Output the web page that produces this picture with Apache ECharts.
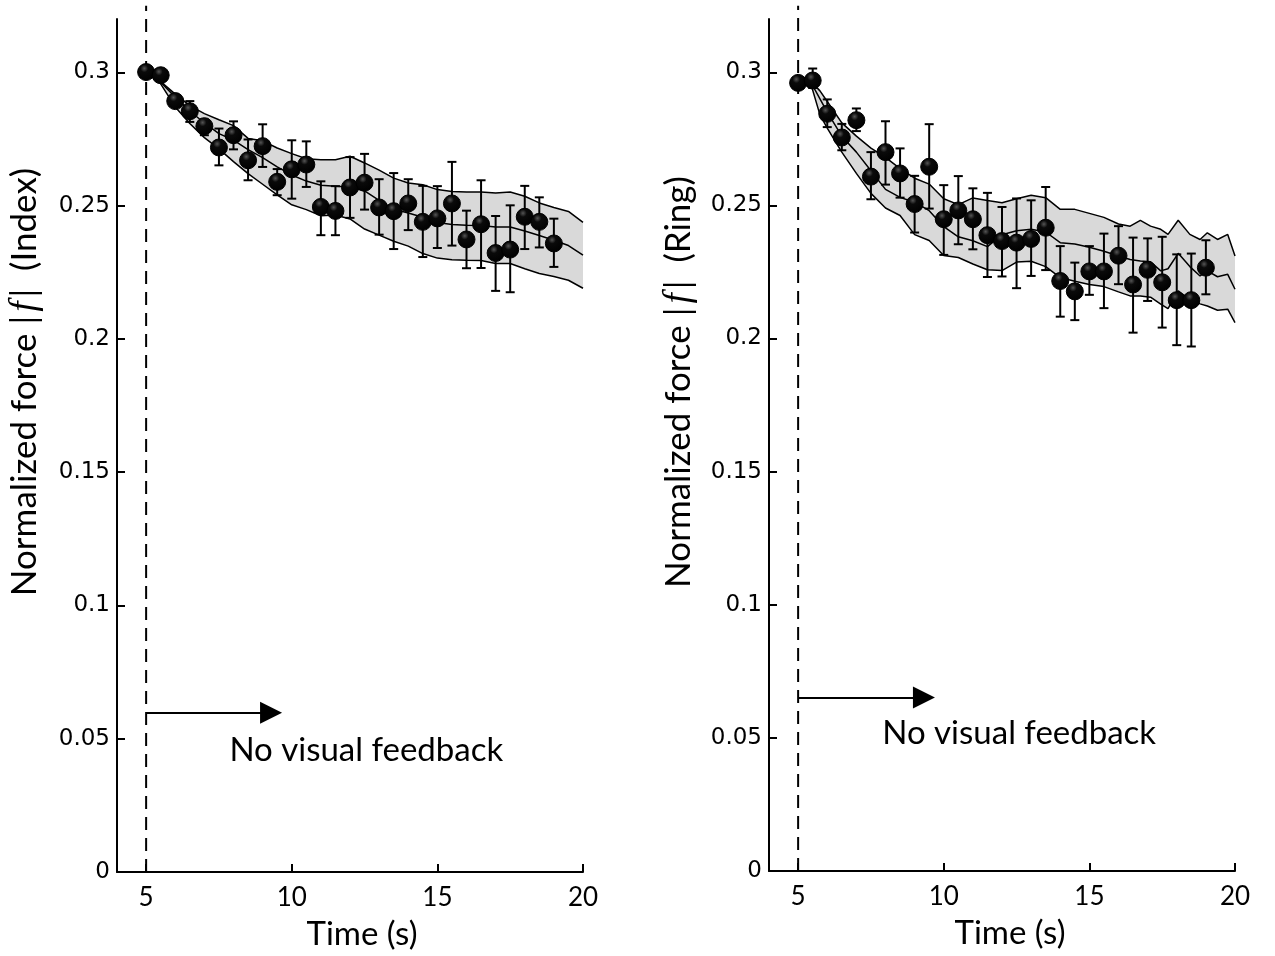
<!DOCTYPE html>
<html>
<head>
<meta charset="utf-8">
<script src="https://cdn.jsdelivr.net/npm/echarts@6/dist/echarts.min.js"></script>
<style>
html, body { margin: 0; padding: 0; background: #fff; }
#main { width: 1275px; height: 956px; }
</style>
</head>
<body>
<div id="main"></div>
<script>
// sample times (s)
var times = [5, 5.5, 6, 6.5, 7, 7.5, 8, 8.5, 9, 9.5, 10, 10.5, 11, 11.5, 12, 12.5, 13, 13.5, 14, 14.5, 15, 15.5, 16, 16.5, 17, 17.5, 18, 18.5, 19];

// index finger: mean and error bar ends
var indexMean = [0.3001, 0.2989, 0.2892, 0.2854, 0.2798, 0.2718, 0.2764, 0.2670, 0.2723, 0.2589, 0.2636, 0.2654, 0.2495, 0.2480, 0.2568, 0.2586, 0.2493, 0.2479, 0.2508, 0.2439, 0.2452, 0.2508, 0.2373, 0.2430, 0.2322, 0.2335, 0.2458, 0.2439, 0.2358];
var indexLow  = [0.2990, 0.2978, 0.2880, 0.2814, 0.2764, 0.2651, 0.2711, 0.2595, 0.2645, 0.2539, 0.2526, 0.2570, 0.2389, 0.2389, 0.2454, 0.2485, 0.2391, 0.2337, 0.2408, 0.2307, 0.2341, 0.2350, 0.2265, 0.2266, 0.2180, 0.2175, 0.2337, 0.2343, 0.2270];
var indexHigh = [0.3012, 0.3000, 0.2905, 0.2892, 0.2823, 0.2789, 0.2816, 0.2748, 0.2805, 0.2637, 0.2745, 0.2741, 0.2591, 0.2573, 0.2682, 0.2694, 0.2599, 0.2622, 0.2599, 0.2574, 0.2573, 0.2664, 0.2481, 0.2595, 0.2461, 0.2501, 0.2574, 0.2531, 0.2451];

// ring finger
var ringMean = [0.2960, 0.2969, 0.2844, 0.2755, 0.2820, 0.2608, 0.2700, 0.2620, 0.2505, 0.2645, 0.2448, 0.2481, 0.2448, 0.2388, 0.2366, 0.2360, 0.2374, 0.2416, 0.2216, 0.2177, 0.2252, 0.2252, 0.2311, 0.2203, 0.2258, 0.2211, 0.2144, 0.2144, 0.2266];
var ringLow  = [0.2945, 0.2941, 0.2794, 0.2707, 0.2779, 0.2523, 0.2578, 0.2529, 0.2398, 0.2488, 0.2314, 0.2354, 0.2335, 0.2231, 0.2233, 0.2189, 0.2235, 0.2257, 0.2082, 0.2069, 0.2164, 0.2114, 0.2204, 0.2022, 0.2141, 0.2041, 0.1975, 0.1970, 0.2166];
var ringHigh = [0.2975, 0.3014, 0.2898, 0.2806, 0.2864, 0.2700, 0.2816, 0.2714, 0.2611, 0.2805, 0.2576, 0.2610, 0.2564, 0.2547, 0.2494, 0.2526, 0.2519, 0.2569, 0.2347, 0.2285, 0.2347, 0.2394, 0.2422, 0.2379, 0.2376, 0.2382, 0.2316, 0.2319, 0.2369];

// model band, index panel
var indexBandX   = [5.4, 5.5, 6, 6.5, 7, 7.5, 8, 8.5, 9, 9.5, 10, 10.5, 11, 11.5, 12, 12.5, 13, 13.5, 14, 14.5, 15, 15.5, 16, 16.5, 17, 17.5, 18, 18.5, 19, 19.5, 20];
var indexBandUp  = [0.2990, 0.2965, 0.2918, 0.2875, 0.2845, 0.2822, 0.2800, 0.2752, 0.2743, 0.2716, 0.2695, 0.2676, 0.2672, 0.2672, 0.2685, 0.2660, 0.2633, 0.2603, 0.2585, 0.2578, 0.2560, 0.2553, 0.2551, 0.2551, 0.2547, 0.2551, 0.2535, 0.2510, 0.2493, 0.2478, 0.2437];
var indexBandMid = [0.2990, 0.2963, 0.2907, 0.2855, 0.2810, 0.2770, 0.2746, 0.2710, 0.2680, 0.2645, 0.2615, 0.2592, 0.2576, 0.2573, 0.2570, 0.2555, 0.2520, 0.2486, 0.2472, 0.2456, 0.2437, 0.2429, 0.2426, 0.2425, 0.2420, 0.2420, 0.2405, 0.2388, 0.2370, 0.2350, 0.2314];
var indexBandLow = [0.2990, 0.2957, 0.2870, 0.2808, 0.2755, 0.2713, 0.2665, 0.2620, 0.2580, 0.2540, 0.2503, 0.2485, 0.2462, 0.2465, 0.2450, 0.2412, 0.2389, 0.2366, 0.2348, 0.2320, 0.2303, 0.2297, 0.2295, 0.2294, 0.2283, 0.2283, 0.2263, 0.2245, 0.2234, 0.2220, 0.2190];

// model band, ring panel
var ringBandX   = [5.4, 5.75, 6, 6.5, 7, 7.5, 8, 8.5, 9, 9.5, 10, 10.5, 11, 11.5, 12, 12.5, 13, 13.5, 14, 14.5, 15, 15.5, 16, 16.4, 16.75, 17.1, 17.45, 17.7, 18.05, 18.45, 18.8, 19.05, 19.4, 19.75, 20];
var ringBandUp  = [0.2970, 0.2930, 0.2890, 0.2810, 0.2760, 0.2715, 0.2680, 0.2638, 0.2602, 0.2580, 0.2525, 0.2503, 0.2528, 0.2518, 0.2510, 0.2525, 0.2538, 0.2529, 0.2485, 0.2485, 0.2470, 0.2455, 0.2430, 0.2422, 0.2444, 0.2422, 0.2410, 0.2391, 0.2444, 0.2391, 0.2372, 0.2397, 0.2372, 0.2391, 0.2310];
var ringBandMid = [0.2970, 0.2900, 0.2850, 0.2760, 0.2700, 0.2630, 0.2560, 0.2530, 0.2512, 0.2480, 0.2420, 0.2382, 0.2367, 0.2345, 0.2390, 0.2405, 0.2410, 0.2400, 0.2360, 0.2355, 0.2343, 0.2328, 0.2310, 0.2297, 0.2291, 0.2288, 0.2254, 0.2262, 0.2320, 0.2270, 0.2235, 0.2254, 0.2232, 0.2241, 0.2185];
var ringBandLow = [0.2970, 0.2840, 0.2790, 0.2700, 0.2620, 0.2545, 0.2490, 0.2462, 0.2390, 0.2368, 0.2312, 0.2304, 0.2280, 0.2258, 0.2255, 0.2287, 0.2290, 0.2270, 0.2229, 0.2215, 0.2203, 0.2195, 0.2175, 0.2160, 0.2160, 0.2155, 0.2129, 0.2112, 0.2179, 0.2145, 0.2130, 0.2122, 0.2106, 0.2110, 0.2060];

var xTicks = [5, 10, 15, 20];
var yTicks = [0, 0.05, 0.1, 0.15, 0.2, 0.25, 0.3];

var feedbackStart = 5;
var noteText = 'No visual feedback';
var labelFont = 'Lato, "Open Sans", sans-serif';

function zip3(a, b, c) {
  return a.map(function (v, i) { return [v, b[i], c[i]]; });
}

function bandItem(bx, up, lo) {
  return function (params, api) {
    if (params.dataIndex !== 0) return null;
    var pts = [];
    for (var i = 0; i < bx.length; i++) pts.push(api.coord([bx[i], up[i]]));
    for (var j = bx.length - 1; j >= 0; j--) pts.push(api.coord([bx[j], lo[j]]));
    return { type: 'polygon', shape: { points: pts }, style: { fill: '#d9d9d9' }, silent: true };
  };
}

function errorBarItem(params, api) {
  var x = api.value(0);
  var top = api.coord([x, api.value(2)]);
  var bot = api.coord([x, api.value(1)]);
  var hw = 4.5;
  var st = { stroke: '#000', lineWidth: 2 };
  return {
    type: 'group',
    children: [
      { type: 'line', shape: { x1: top[0], y1: top[1], x2: bot[0], y2: bot[1] }, style: st },
      { type: 'line', shape: { x1: top[0] - hw, y1: top[1], x2: top[0] + hw, y2: top[1] }, style: st },
      { type: 'line', shape: { x1: bot[0] - hw, y1: bot[1], x2: bot[0] + hw, y2: bot[1] }, style: st }
    ]
  };
}

var dotColor = {
  type: 'radial', x: 0.4, y: 0.3, r: 0.7,
  colorStops: [{ offset: 0, color: '#555' }, { offset: 0.3, color: '#0a0a0a' }, { offset: 1, color: '#000' }]
};

function bandLine(idx, bx, vals) {
  return {
    type: 'line', xAxisIndex: idx, yAxisIndex: idx, z: 3,
    data: bx.map(function (x, i) { return [x, vals[i]]; }),
    showSymbol: false, silent: true, smooth: false,
    lineStyle: { color: '#000', width: 1.5 }
  };
}

function panelSeries(idx, mean, low, high, bx, bu, bm, bl, arrowY, arrowEnd, note) {
  return [
    {
      type: 'custom', xAxisIndex: idx, yAxisIndex: idx, z: 2, silent: true,
      renderItem: bandItem(bx, bu, bl),
      data: zip3(bx, bu, bl), encode: { x: 0, y: [1, 2] }
    },
    bandLine(idx, bx, bu),
    bandLine(idx, bx, bm),
    bandLine(idx, bx, bl),
    {
      type: 'custom', xAxisIndex: idx, yAxisIndex: idx, z: 4, silent: true,
      renderItem: errorBarItem,
      data: zip3(times, low, high), encode: { x: 0, y: [1, 2] }
    },
    {
      type: 'scatter', xAxisIndex: idx, yAxisIndex: idx, z: 5, silent: true,
      symbolSize: 17,
      itemStyle: { color: dotColor, borderColor: '#000', borderWidth: 1, opacity: 1 },
      data: times.map(function (t, i) { return [t, mean[i]]; })
    },
    {
      type: 'line', xAxisIndex: idx, yAxisIndex: idx, z: 3, silent: true, clip: false,
      showSymbol: false,
      lineStyle: { color: '#000', width: 2, type: [13, 8] },
      data: [[feedbackStart, 0], [feedbackStart, 0.325]],
      markLine: {
        silent: true, animation: false,
        symbol: ['none', 'triangle'], symbolSize: 22,
        lineStyle: { color: '#000', width: 2, type: 'solid' },
        label: { show: false },
        data: [[{ coord: [feedbackStart, arrowY] }, { coord: [arrowEnd, arrowY] }]]
      }
    },
    {
      type: 'scatter', xAxisIndex: idx, yAxisIndex: idx, z: 6, silent: true,
      symbolSize: 1, itemStyle: { color: 'rgba(0,0,0,0)', opacity: 1 },
      label: {
        show: true, position: 'inside', formatter: noteText,
        fontFamily: labelFont, fontSize: 33, color: '#000'
      },
      data: [note]
    }
  ];
}

function xAxisCfg(idx, pad) {
  return {
    type: 'value', gridIndex: idx, min: 4, max: 20,
    name: 'Time (s)', nameLocation: 'middle', nameGap: 46,
    nameTextStyle: { fontFamily: labelFont, fontSize: 33, color: '#000', padding: [0, 0, 0, pad] },
    axisLine: { lineStyle: { color: '#000', width: 2 } },
    axisTick: { inside: true, length: 8, lineStyle: { color: '#000', width: 2 }, customValues: xTicks },
    axisLabel: { margin: 13, fontFamily: labelFont, fontSize: 26, color: '#000', customValues: xTicks },
    splitLine: { show: false }
  };
}

function yAxisCfg(idx) {
  return {
    type: 'value', gridIndex: idx, min: 0, max: 0.32,
    axisLine: { show: true, lineStyle: { color: '#000', width: 2 } },
    axisTick: { show: true, inside: true, length: 8, lineStyle: { color: '#000', width: 2 }, customValues: yTicks },
    axisLabel: { margin: 7, fontFamily: '"DejaVu Sans", sans-serif', fontSize: 23, color: '#000', customValues: yTicks },
    splitLine: { show: false }
  };
}

function yTitle(x, finger) {
  return {
    type: 'text', x: x, y: 382, rotation: Math.PI / 2, silent: true,
    style: {
      text: '{a|Normalized force |}{i|f}{a||  (' + finger + ')}',
      align: 'center', verticalAlign: 'middle',
      rich: {
        a: { fontFamily: labelFont, fontSize: 35, fill: '#000' },
        i: { fontFamily: '"Liberation Serif", serif', fontStyle: 'italic', fontSize: 37, fill: '#000', padding: [0, 4, 0, 4] }
      }
    }
  };
}

var chart = echarts.init(document.getElementById('main'));
chart.setOption({
  animation: false,
  backgroundColor: '#fff',
  grid: [
    { left: 117, top: 19, width: 466, height: 853 },
    { left: 769, top: 19, width: 466, height: 852 }
  ],
  xAxis: [xAxisCfg(0, 24), xAxisCfg(1, 16)],
  yAxis: [yAxisCfg(0), yAxisCfg(1)],
  graphic: [yTitle(25, 'Index'), yTitle(679, 'Ring')],
  series: [].concat(
    panelSeries(0, indexMean, indexLow, indexHigh, indexBandX, indexBandUp, indexBandMid, indexBandLow, 0.0597, 9.29, [12.56, 0.0457]),
    panelSeries(1, ringMean, ringLow, ringHigh, ringBandX, ringBandUp, ringBandMid, ringBandLow, 0.0652, 9.32, [12.59, 0.0518])
  )
});
</script>
</body>
</html>
